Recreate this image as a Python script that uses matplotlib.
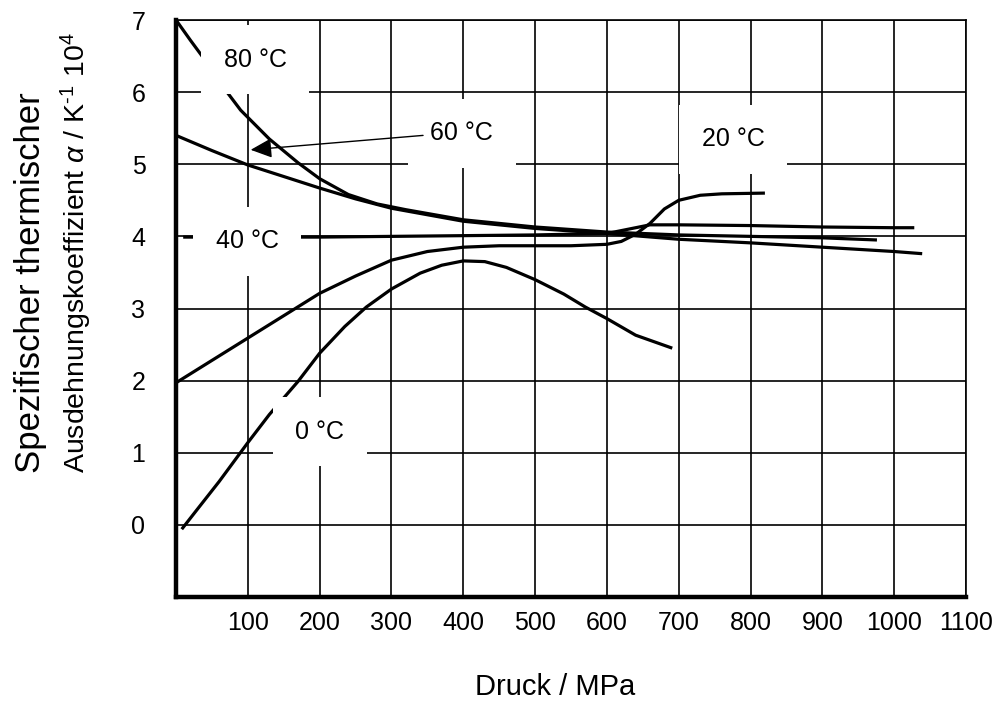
import matplotlib
matplotlib.use('Agg')
import matplotlib.pyplot as plt

plt.rcParams['font.family'] = ['Liberation Sans', 'DejaVu Sans']
plt.rcParams['mathtext.fontset'] = 'custom'
plt.rcParams['mathtext.rm'] = 'Liberation Sans'
plt.rcParams['mathtext.it'] = 'Liberation Sans:italic'

# Curves (pressure in MPa, alpha in 1e-4 / K)
t0_x = [8, 30, 60, 100, 130, 170, 200, 235, 265, 300, 340, 370, 400, 430, 460, 500, 540, 570, 600, 640, 691]
t0_y = [-0.06, 0.22, 0.60, 1.14, 1.53, 1.99, 2.38, 2.75, 3.02, 3.27, 3.49, 3.60, 3.66, 3.65, 3.57, 3.40, 3.20, 3.02, 2.86, 2.63, 2.45]

t20_x = [0, 50, 100, 150, 200, 250, 300, 350, 400, 450, 500, 550, 600, 620, 640, 660, 680, 700, 730, 760, 820]
t20_y = [1.97, 2.28, 2.59, 2.90, 3.21, 3.45, 3.67, 3.79, 3.85, 3.87, 3.87, 3.87, 3.89, 3.93, 4.03, 4.18, 4.38, 4.50, 4.57, 4.59, 4.60]

t40_x = [10, 100, 200, 300, 400, 500, 600, 630, 660, 700, 800, 900, 1000, 1028]
t40_y = [3.99, 3.99, 3.99, 4.0, 4.01, 4.02, 4.04, 4.1, 4.16, 4.16, 4.15, 4.13, 4.12, 4.12]

t60_x = [0, 50, 100, 150, 200, 250, 300, 400, 500, 600, 700, 800, 900, 1000, 1039]
t60_y = [5.40, 5.19, 4.99, 4.83, 4.67, 4.52, 4.39, 4.21, 4.11, 4.04, 3.96, 3.91, 3.85, 3.79, 3.76]

t80_x = [0, 20, 40, 65, 90, 130, 170, 200, 240, 280, 320, 400, 500, 600, 700, 800, 900, 976]
t80_y = [7.0, 6.72, 6.45, 6.08, 5.75, 5.35, 5.02, 4.80, 4.58, 4.45, 4.37, 4.23, 4.13, 4.06, 4.02, 4.0, 3.98, 3.95]

curves = [(t0_x, t0_y), (t20_x, t20_y), (t40_x, t40_y), (t60_x, t60_y), (t80_x, t80_y)]

labels = ['0 °C', '20 °C', '40 °C', '60 °C', '80 °C']
label_x = [200, 776, 99, 398, 110]
label_y = [1.29, 5.35, 3.93, 5.43, 6.45]

arrow_tip = (104, 5.2)
arrow_tail = (344, 5.40)

x_ticks = [100, 200, 300, 400, 500, 600, 700, 800, 900, 1000, 1100]
y_ticks = [-1, 0, 1, 2, 3, 4, 5, 6, 7]
y_ticklabels = ['', '0', '1', '2', '3', '4', '5', '6', '7']

fig = plt.figure(figsize=(10.05, 7.02), dpi=100)
ax = fig.add_axes([176 / 1005, 1 - 597 / 702, 790 / 1005, 577 / 702])

for cx, cy in curves:
    ax.plot(cx, cy, color='black', lw=2.3, solid_capstyle='butt', solid_joinstyle='round', zorder=2)

# temperature labels sit on white boxes that hide grid and curves
for lab, lx, ly in zip(labels, label_x, label_y):
    ax.text(lx, ly, lab, fontsize=18, ha='center', va='center', zorder=3,
            bbox=dict(boxstyle='square,pad=0.9', fc='white', ec='none'))

ax.annotate('', xy=arrow_tip, xytext=arrow_tail, zorder=4,
            arrowprops=dict(arrowstyle='-|>,head_length=0.65,head_width=0.3',
                            color='black', lw=1.0, mutation_scale=20,
                            shrinkA=0, shrinkB=0))

ax.set_xlim(0, 1100)
ax.set_ylim(-1, 7)
ax.set_xticks(x_ticks)
ax.set_xticklabels([str(v) for v in x_ticks])
ax.set_yticks(y_ticks)
ax.set_yticklabels(y_ticklabels)
ax.tick_params(length=0, labelsize=18)
ax.tick_params(axis='x', pad=10)
ax.tick_params(axis='y', pad=22)
ax.set_axisbelow(True)
ax.grid(True, color='black', lw=1.2)

for side in ['left', 'bottom']:
    ax.spines[side].set_linewidth(3.2)
for side in ['top', 'right']:
    ax.spines[side].set_linewidth(1.2)

fig.text(555 / 1005, 1 - 687 / 702, 'Druck / MPa', fontsize=21, ha='center', va='center')
fig.text(31 / 1005, 1 - 473 / 702, 'Spezifischer thermischer', fontsize=25,
         rotation=90, ha='center', va='bottom')
fig.text(76 / 1005, 1 - 473 / 702, r'Ausdehnungskoeffizient $\it{\alpha}$ / K$^{\text{-}1}$ 10$^{4}$',
         fontsize=20.5, rotation=90, ha='center', va='bottom')

fig.savefig('out.png', dpi=100)
